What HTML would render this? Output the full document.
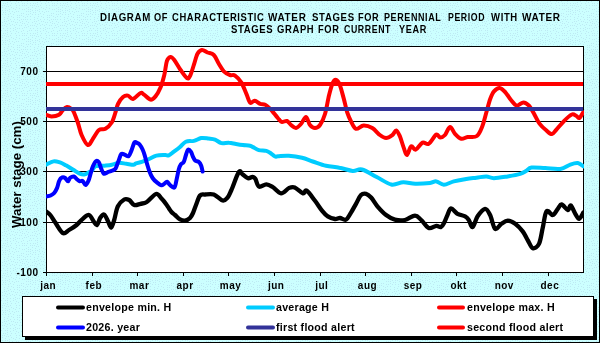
<!DOCTYPE html>
<html><head><meta charset="utf-8"><style>
html,body{margin:0;padding:0;}
body{width:600px;height:343px;position:relative;overflow:hidden;will-change:transform;font-family:"Liberation Sans", sans-serif;font-weight:bold;color:#000;}
svg{position:absolute;left:0;top:0;}
.tw{position:absolute;white-space:pre;font-size:10.4px;line-height:12px;transform-origin:0 0;letter-spacing:0.7px;}
.yl{position:absolute;left:0;width:38.5px;text-align:right;font-size:10px;line-height:12px;letter-spacing:0.5px;}
.ml{position:absolute;top:280px;width:40px;text-align:center;font-size:10px;line-height:12px;letter-spacing:0.5px;}
.yt{position:absolute;left:0;top:0;font-size:13.33px;line-height:14px;white-space:pre;transform-origin:0 0;}
.lg{position:absolute;font-size:10.67px;line-height:12px;white-space:pre;letter-spacing:0.25px;}
</style></head><body>
<svg width="600" height="343" viewBox="0 0 600 343">
<defs><pattern id="dots" x="0" y="0" width="30" height="30" patternUnits="userSpaceOnUse"><rect width="30" height="30" fill="#CCFFFF"/><g fill="#BDE9F3"><rect x="23" y="13" width="1" height="1"/><rect x="14" y="19" width="1" height="1"/><rect x="0" y="28" width="1" height="1"/><rect x="18" y="2" width="1" height="1"/><rect x="16" y="24" width="1" height="1"/><rect x="26" y="5" width="1" height="1"/><rect x="0" y="3" width="1" height="1"/><rect x="3" y="28" width="1" height="1"/><rect x="24" y="3" width="1" height="1"/><rect x="16" y="5" width="1" height="1"/><rect x="10" y="5" width="1" height="1"/><rect x="12" y="11" width="1" height="1"/><rect x="14" y="12" width="1" height="1"/><rect x="16" y="7" width="1" height="1"/><rect x="26" y="11" width="1" height="1"/><rect x="2" y="5" width="1" height="1"/><rect x="13" y="8" width="1" height="1"/><rect x="22" y="28" width="1" height="1"/><rect x="22" y="23" width="1" height="1"/><rect x="6" y="6" width="1" height="1"/><rect x="27" y="1" width="1" height="1"/><rect x="2" y="22" width="1" height="1"/><rect x="13" y="0" width="1" height="1"/><rect x="28" y="7" width="1" height="1"/><rect x="14" y="25" width="1" height="1"/><rect x="26" y="14" width="1" height="1"/><rect x="19" y="17" width="1" height="1"/><rect x="0" y="9" width="1" height="1"/><rect x="27" y="19" width="1" height="1"/><rect x="4" y="17" width="1" height="1"/><rect x="15" y="29" width="1" height="1"/><rect x="27" y="3" width="1" height="1"/><rect x="3" y="3" width="1" height="1"/><rect x="28" y="26" width="1" height="1"/><rect x="0" y="19" width="1" height="1"/><rect x="12" y="24" width="1" height="1"/><rect x="19" y="25" width="1" height="1"/><rect x="21" y="25" width="1" height="1"/><rect x="7" y="0" width="1" height="1"/><rect x="9" y="9" width="1" height="1"/><rect x="22" y="9" width="1" height="1"/><rect x="4" y="21" width="1" height="1"/><rect x="25" y="17" width="1" height="1"/><rect x="17" y="15" width="1" height="1"/><rect x="17" y="17" width="1" height="1"/><rect x="22" y="5" width="1" height="1"/><rect x="23" y="0" width="1" height="1"/><rect x="7" y="28" width="1" height="1"/><rect x="21" y="19" width="1" height="1"/><rect x="6" y="26" width="1" height="1"/><rect x="28" y="14" width="1" height="1"/><rect x="7" y="10" width="1" height="1"/><rect x="5" y="10" width="1" height="1"/><rect x="3" y="12" width="1" height="1"/><rect x="10" y="13" width="1" height="1"/><rect x="16" y="11" width="1" height="1"/><rect x="10" y="19" width="1" height="1"/><rect x="19" y="28" width="1" height="1"/><rect x="26" y="8" width="1" height="1"/><rect x="0" y="5" width="1" height="1"/><rect x="15" y="3" width="1" height="1"/><rect x="5" y="23" width="1" height="1"/><rect x="24" y="23" width="1" height="1"/><rect x="15" y="27" width="1" height="1"/><rect x="22" y="3" width="1" height="1"/><rect x="24" y="5" width="1" height="1"/><rect x="10" y="25" width="1" height="1"/><rect x="0" y="11" width="1" height="1"/><rect x="19" y="5" width="1" height="1"/><rect x="11" y="21" width="1" height="1"/><rect x="8" y="16" width="1" height="1"/><rect x="1" y="0" width="1" height="1"/><rect x="13" y="17" width="1" height="1"/><rect x="5" y="3" width="1" height="1"/><rect x="8" y="6" width="1" height="1"/><rect x="21" y="15" width="1" height="1"/><rect x="4" y="25" width="1" height="1"/><rect x="15" y="22" width="1" height="1"/><rect x="19" y="8" width="1" height="1"/><rect x="24" y="27" width="1" height="1"/><rect x="0" y="16" width="1" height="1"/><rect x="23" y="19" width="1" height="1"/><rect x="2" y="25" width="1" height="1"/><rect x="25" y="25" width="1" height="1"/><rect x="22" y="21" width="1" height="1"/><rect x="10" y="28" width="1" height="1"/><rect x="7" y="18" width="1" height="1"/><rect x="17" y="22" width="1" height="1"/><rect x="2" y="7" width="1" height="1"/><rect x="5" y="8" width="1" height="1"/><rect x="15" y="9" width="1" height="1"/><rect x="11" y="7" width="1" height="1"/><rect x="7" y="24" width="1" height="1"/><rect x="2" y="14" width="1" height="1"/><rect x="17" y="28" width="1" height="1"/><rect x="5" y="12" width="1" height="1"/><rect x="5" y="0" width="1" height="1"/><rect x="9" y="11" width="1" height="1"/><rect x="26" y="21" width="1" height="1"/><rect x="7" y="4" width="1" height="1"/><rect x="11" y="16" width="1" height="1"/><rect x="28" y="22" width="1" height="1"/><rect x="19" y="15" width="1" height="1"/><rect x="28" y="11" width="1" height="1"/><rect x="20" y="22" width="1" height="1"/><rect x="9" y="23" width="1" height="1"/><rect x="18" y="11" width="1" height="1"/><rect x="13" y="14" width="1" height="1"/><rect x="10" y="1" width="1" height="1"/><rect x="29" y="0" width="1" height="1"/><rect x="5" y="14" width="1" height="1"/><rect x="8" y="14" width="1" height="1"/><rect x="26" y="27" width="1" height="1"/><rect x="27" y="16" width="1" height="1"/><rect x="0" y="13" width="1" height="1"/><rect x="19" y="20" width="1" height="1"/><rect x="4" y="5" width="1" height="1"/><rect x="13" y="21" width="1" height="1"/><rect x="16" y="1" width="1" height="1"/><rect x="21" y="1" width="1" height="1"/><rect x="17" y="19" width="1" height="1"/><rect x="0" y="25" width="1" height="1"/><rect x="24" y="9" width="1" height="1"/><rect x="8" y="20" width="1" height="1"/><rect x="2" y="10" width="1" height="1"/><rect x="27" y="24" width="1" height="1"/><rect x="6" y="21" width="1" height="1"/><rect x="7" y="2" width="1" height="1"/><rect x="21" y="13" width="1" height="1"/><rect x="13" y="28" width="1" height="1"/><rect x="4" y="19" width="1" height="1"/><rect x="23" y="16" width="1" height="1"/><rect x="11" y="3" width="1" height="1"/><rect x="25" y="19" width="1" height="1"/><rect x="28" y="9" width="1" height="1"/></g></pattern></defs>
<rect x="0" y="0" width="600" height="343" fill="url(#dots)"/>
<rect x="0.5" y="0.5" width="599" height="342" fill="none" stroke="#000" stroke-width="1"/>
<rect x="46" y="46" width="537" height="226" fill="#fff"/>
<g stroke="#000" stroke-width="1" fill="none" shape-rendering="crispEdges"><line x1="46" y1="71.5" x2="583" y2="71.5"/><line x1="46" y1="121.5" x2="583" y2="121.5"/><line x1="46" y1="171.5" x2="583" y2="171.5"/><line x1="46" y1="222.5" x2="583" y2="222.5"/><line x1="43" y1="71.5" x2="46" y2="71.5"/><line x1="43" y1="121.5" x2="46" y2="121.5"/><line x1="43" y1="171.5" x2="46" y2="171.5"/><line x1="43" y1="222.5" x2="46" y2="222.5"/><line x1="43" y1="272.5" x2="46" y2="272.5"/><line x1="46.5" y1="272" x2="46.5" y2="276"/><line x1="92.5" y1="272" x2="92.5" y2="276"/><line x1="137.5" y1="272" x2="137.5" y2="276"/><line x1="183.5" y1="272" x2="183.5" y2="276"/><line x1="228.5" y1="272" x2="228.5" y2="276"/><line x1="274.5" y1="272" x2="274.5" y2="276"/><line x1="320.5" y1="272" x2="320.5" y2="276"/><line x1="365.5" y1="272" x2="365.5" y2="276"/><line x1="411.5" y1="272" x2="411.5" y2="276"/><line x1="456.5" y1="272" x2="456.5" y2="276"/><line x1="502.5" y1="272" x2="502.5" y2="276"/><line x1="548.5" y1="272" x2="548.5" y2="276"/>
<rect x="46.5" y="46.5" width="537" height="226"/></g>
<clipPath id="pc"><rect x="46" y="46" width="538" height="227"/></clipPath>
<g clip-path="url(#pc)" fill="none" stroke-linejoin="round" stroke-linecap="round">
<path d="M46.0,211.3 C46.7,211.9 48.8,213.1 50.3,215.0 C51.8,216.9 53.2,219.6 55.3,222.6 C57.4,225.6 60.5,231.8 62.8,233.0 C65.1,234.2 66.7,231.3 69.0,230.0 C71.3,228.7 74.3,226.9 76.6,225.0 C78.9,223.1 80.7,220.5 82.8,218.8 C84.9,217.1 87.2,214.6 89.0,215.0 C90.8,215.4 92.3,219.6 93.6,221.3 C94.9,223.0 95.9,225.6 97.0,225.0 C98.1,224.4 99.2,219.3 100.4,217.6 C101.6,215.9 102.9,214.0 104.2,214.6 C105.5,215.2 106.8,219.1 108.0,221.3 C109.2,223.5 110.2,227.8 111.2,227.6 C112.2,227.4 113.1,223.6 114.2,220.0 C115.3,216.4 116.2,209.7 117.9,206.3 C119.6,202.9 122.3,200.6 124.2,199.5 C126.1,198.4 127.5,199.1 129.2,200.0 C130.9,200.9 132.3,204.4 134.2,205.0 C136.1,205.6 138.4,204.3 140.5,203.8 C142.6,203.3 144.2,203.6 146.8,202.0 C149.4,200.4 153.6,194.6 156.0,194.0 C158.4,193.4 159.8,196.8 161.5,198.5 C163.2,200.2 164.8,202.3 166.0,204.0 C167.2,205.7 168.1,207.2 169.0,208.5 C169.9,209.8 170.5,210.9 171.5,212.0 C172.5,213.1 173.6,213.8 175.0,215.0 C176.4,216.2 178.3,218.5 180.0,219.4 C181.7,220.3 183.3,220.8 185.0,220.6 C186.7,220.4 188.7,219.3 190.0,218.0 C191.3,216.7 192.0,215.2 193.0,213.0 C194.0,210.8 194.8,207.9 196.0,205.0 C197.2,202.1 198.5,197.2 200.0,195.5 C201.5,193.8 202.7,194.7 205.0,194.5 C207.3,194.3 210.9,193.5 213.8,194.5 C216.7,195.5 220.3,200.0 222.6,200.5 C224.9,201.0 226.1,199.2 227.6,197.5 C229.1,195.8 229.5,194.2 231.4,190.0 C233.3,185.8 237.0,174.6 238.8,172.0 C240.6,169.4 240.9,173.2 242.4,174.2 C243.9,175.2 246.2,177.8 247.9,178.2 C249.6,178.6 251.3,176.8 252.5,176.9 C253.7,177.0 254.2,177.2 255.3,178.8 C256.4,180.4 257.2,185.8 259.0,186.7 C260.8,187.6 264.0,184.2 266.3,184.3 C268.6,184.4 270.2,185.5 272.7,187.0 C275.1,188.5 278.2,193.2 281.0,193.4 C283.8,193.6 286.9,188.9 289.2,187.9 C291.5,186.9 292.4,186.5 294.7,187.4 C297.0,188.3 301.0,192.9 303.0,193.4 C305.0,193.9 304.7,189.5 306.7,190.7 C308.7,191.9 312.4,197.4 315.0,200.8 C317.6,204.2 320.1,208.3 322.2,210.9 C324.3,213.5 325.7,215.1 327.8,216.4 C329.9,217.8 333.0,218.7 335.0,219.0 C337.0,219.3 338.2,217.9 340.0,218.0 C341.8,218.1 344.2,220.5 346.0,219.6 C347.8,218.7 349.3,215.2 351.0,212.6 C352.7,210.0 354.3,206.7 356.0,203.8 C357.7,200.9 359.3,196.7 361.0,195.0 C362.7,193.3 364.4,193.4 366.1,193.8 C367.8,194.2 369.2,195.4 371.1,197.5 C373.0,199.6 374.9,203.4 377.4,206.3 C379.9,209.2 383.2,212.8 386.1,215.0 C389.0,217.2 391.8,218.8 394.9,219.6 C398.0,220.4 401.5,220.7 404.9,220.0 C408.2,219.3 412.3,215.6 415.0,215.6 C417.7,215.6 418.9,217.9 421.2,220.0 C423.5,222.1 426.2,227.0 428.7,228.0 C431.2,229.0 434.2,226.0 436.3,225.8 C438.4,225.6 439.6,227.6 441.0,227.0 C442.4,226.4 443.4,224.0 444.5,222.0 C445.6,220.0 446.4,217.2 447.5,215.0 C448.6,212.8 449.3,208.7 451.0,208.5 C452.7,208.3 455.1,212.5 457.5,213.8 C459.9,215.1 463.2,215.3 465.1,216.3 C467.0,217.3 467.6,218.2 468.8,220.0 C470.1,221.8 471.1,227.7 472.6,227.1 C474.1,226.5 475.5,219.4 477.6,216.3 C479.7,213.2 483.0,209.0 485.1,208.8 C487.2,208.6 488.4,211.7 490.1,215.0 C491.8,218.3 493.2,227.3 495.1,228.8 C497.0,230.3 499.3,225.2 501.4,223.8 C503.5,222.4 505.4,220.6 507.7,220.6 C510.0,220.6 512.7,222.0 515.2,223.8 C517.7,225.6 520.6,228.7 522.7,231.4 C524.8,234.1 526.0,237.3 527.7,240.1 C529.4,242.9 530.8,247.5 532.7,248.1 C534.6,248.7 537.3,247.3 539.0,243.9 C540.7,240.5 541.5,233.0 542.8,227.6 C544.0,222.2 544.8,213.4 546.5,211.3 C548.2,209.2 550.9,215.4 552.8,215.0 C554.7,214.6 556.3,210.6 557.8,208.8 C559.3,207.1 559.9,204.3 561.6,204.5 C563.3,204.7 566.3,209.8 567.8,210.0 C569.3,210.2 569.5,204.9 570.8,205.5 C572.0,206.1 573.9,211.6 575.3,213.8 C576.7,216.0 577.8,219.0 579.1,218.8 C580.5,218.6 582.7,213.6 583.4,212.6" stroke="#000" stroke-width="4.3"/>
<path d="M46.2,164.6 C47.4,164.1 51.2,161.8 53.5,161.4 C55.8,161.0 57.9,161.8 60.0,162.4 C62.1,163.1 63.7,164.1 65.9,165.3 C68.1,166.5 70.9,168.3 73.2,169.7 C75.5,171.1 77.9,172.8 79.7,173.6 C81.5,174.4 82.6,174.7 84.1,174.5 C85.6,174.3 87.2,173.3 88.5,172.6 C89.8,171.9 90.9,171.5 92.1,170.4 C93.3,169.3 93.7,167.0 95.8,166.2 C97.9,165.4 101.9,165.9 104.6,165.7 C107.3,165.4 109.5,165.2 111.9,164.7 C114.3,164.2 116.8,163.0 119.2,162.8 C121.6,162.7 124.0,163.5 126.4,163.8 C128.8,164.1 132.1,164.8 133.7,164.7 C135.3,164.6 134.7,163.8 136.0,163.3 C137.3,162.8 139.6,162.6 141.8,161.9 C144.0,161.2 146.7,160.1 149.1,159.0 C151.5,157.9 153.7,156.3 156.4,155.6 C159.1,154.9 163.1,155.1 165.2,155.0 C167.3,154.9 167.4,155.9 168.8,155.3 C170.2,154.8 172.1,153.0 173.9,151.7 C175.7,150.4 177.7,149.0 179.7,147.3 C181.7,145.6 183.4,142.8 185.8,141.7 C188.2,140.6 191.3,141.5 193.9,140.9 C196.5,140.3 198.8,138.4 201.2,138.0 C203.6,137.6 206.1,138.2 208.4,138.5 C210.7,138.8 212.8,138.8 215.0,139.6 C217.2,140.4 219.1,142.6 221.4,143.1 C223.7,143.6 226.6,142.5 229.0,142.7 C231.4,142.8 233.7,143.6 236.0,144.0 C238.3,144.4 240.7,144.8 243.0,145.1 C245.3,145.4 248.2,145.4 250.0,145.8 C251.8,146.2 252.0,146.7 253.5,147.4 C255.0,148.1 256.7,149.5 258.8,150.1 C260.9,150.7 264.4,150.4 266.3,150.9 C268.2,151.4 268.9,152.1 270.4,153.0 C271.8,153.9 273.7,156.0 275.0,156.5 C276.3,157.0 275.7,156.3 278.0,156.2 C280.3,156.1 284.7,155.4 288.7,155.7 C292.7,156.0 298.0,156.8 302.0,157.8 C306.0,158.8 308.7,160.2 312.7,161.5 C316.7,162.8 321.6,164.8 326.0,165.8 C330.4,166.8 334.9,166.8 339.3,167.7 C343.8,168.5 348.9,170.6 352.7,170.9 C356.5,171.2 358.0,168.5 362.0,169.5 C366.0,170.5 371.8,174.5 376.7,177.0 C381.6,179.5 386.9,183.6 391.3,184.5 C395.7,185.4 399.3,182.4 403.3,182.3 C407.3,182.2 410.9,183.6 415.3,183.7 C419.8,183.8 426.5,183.3 430.0,182.9 C433.5,182.5 434.0,181.1 436.3,181.4 C438.6,181.7 440.9,184.7 443.8,184.7 C446.7,184.7 450.1,182.4 453.8,181.4 C457.6,180.4 462.5,179.5 466.3,178.9 C470.1,178.3 473.0,178.1 476.4,177.7 C479.8,177.3 483.5,176.3 486.4,176.4 C489.3,176.5 490.3,178.2 493.9,178.2 C497.4,178.2 503.3,177.1 507.7,176.4 C512.1,175.7 517.1,174.9 520.2,173.9 C523.3,172.9 524.6,171.8 526.5,170.7 C528.4,169.6 528.4,168.0 531.5,167.6 C534.6,167.2 540.5,167.9 545.3,168.1 C550.1,168.3 556.1,169.5 560.3,168.9 C564.5,168.3 567.4,165.6 570.3,164.6 C573.2,163.6 575.6,162.8 577.8,163.1 C580.0,163.4 582.5,165.8 583.4,166.4" stroke="#00CCFF" stroke-width="4"/>
<path d="M46.0,114.7 C46.9,115.0 49.3,116.4 51.5,116.4 C53.7,116.4 57.1,115.8 59.0,114.7 C60.9,113.6 61.5,111.3 62.8,110.0 C64.1,108.7 65.5,107.2 67.0,107.0 C68.5,106.8 70.4,108.1 71.6,109.0 C72.8,109.9 73.0,110.2 74.0,112.5 C75.0,114.8 76.5,118.8 77.8,122.5 C79.1,126.2 79.9,131.2 81.6,135.0 C83.3,138.8 86.0,144.4 87.9,145.0 C89.8,145.6 91.1,141.3 92.9,138.8 C94.8,136.3 96.9,131.7 99.0,130.0 C101.1,128.3 103.3,130.1 105.4,128.8 C107.5,127.6 110.0,125.2 111.7,122.5 C113.4,119.8 114.4,115.6 115.4,112.5 C116.5,109.4 116.7,106.6 118.0,104.0 C119.3,101.4 121.3,98.4 123.0,97.0 C124.7,95.6 126.3,95.3 128.0,95.6 C129.7,95.9 130.9,99.4 133.0,99.0 C135.1,98.6 138.7,93.7 140.5,93.0 C142.3,92.3 142.3,93.5 144.0,94.6 C145.7,95.7 148.6,99.3 150.5,99.6 C152.4,99.9 153.8,98.4 155.5,96.4 C157.2,94.4 159.0,91.2 160.5,87.6 C162.0,84.0 163.2,79.4 164.3,75.0 C165.4,70.6 165.8,64.3 166.8,61.3 C167.9,58.3 169.3,57.2 170.6,57.0 C171.8,56.8 172.6,57.8 174.3,60.0 C176.0,62.2 178.5,67.0 180.6,70.0 C182.7,73.0 185.3,77.0 186.9,78.0 C188.5,79.0 188.8,78.2 190.0,76.0 C191.2,73.8 192.6,68.7 193.8,65.0 C195.1,61.3 196.1,56.3 197.5,53.8 C198.9,51.3 200.3,50.2 202.0,50.0 C203.7,49.8 205.5,51.7 207.5,52.5 C209.5,53.3 211.9,53.1 213.8,55.0 C215.7,56.9 217.1,61.1 218.8,63.8 C220.5,66.5 221.9,69.4 223.8,71.3 C225.7,73.2 228.1,74.3 230.0,75.0 C231.9,75.7 233.1,74.3 235.0,75.6 C236.9,76.9 239.5,79.5 241.4,82.6 C243.3,85.6 244.9,90.6 246.4,93.9 C247.9,97.2 248.8,101.6 250.2,102.7 C251.6,103.8 253.0,100.5 254.7,100.7 C256.4,100.9 258.4,103.2 260.2,103.9 C261.9,104.6 263.5,103.9 265.2,104.7 C266.9,105.5 268.3,107.0 270.2,108.9 C272.1,110.9 275.0,114.6 276.5,116.4 C278.0,118.2 278.1,118.6 279.0,119.5 C279.9,120.4 280.7,121.8 282.0,122.0 C283.3,122.2 285.5,120.5 287.0,121.0 C288.5,121.5 289.5,123.8 291.0,125.0 C292.5,126.2 294.3,128.2 296.0,128.0 C297.7,127.8 299.3,125.8 301.0,124.0 C302.7,122.2 304.5,116.8 306.0,117.0 C307.5,117.2 308.5,123.2 310.0,125.0 C311.5,126.8 313.3,128.0 315.0,128.0 C316.7,128.0 318.3,127.3 320.0,125.0 C321.7,122.7 323.5,119.0 325.0,114.0 C326.5,109.0 327.8,100.2 329.1,95.0 C330.4,89.8 331.7,85.1 332.9,82.6 C334.1,80.1 335.0,79.6 336.1,80.0 C337.2,80.4 338.6,82.1 339.8,85.0 C341.0,87.9 342.2,93.0 343.5,97.6 C344.8,102.2 346.1,108.8 347.3,112.7 C348.6,116.7 349.6,118.6 351.0,121.3 C352.4,124.0 353.9,128.1 356.0,128.8 C358.1,129.5 360.9,125.6 363.6,125.5 C366.3,125.4 369.6,126.4 372.3,128.0 C375.0,129.6 377.6,133.3 379.9,135.0 C382.2,136.7 384.0,138.0 386.1,138.0 C388.2,138.0 390.7,136.2 392.4,135.0 C394.1,133.8 394.9,130.3 396.2,130.5 C397.4,130.7 398.6,133.5 399.9,136.3 C401.1,139.2 402.5,144.5 403.7,147.6 C404.9,150.7 405.6,155.2 406.9,155.0 C408.1,154.8 409.7,147.2 411.2,146.3 C412.7,145.4 413.8,150.2 415.7,149.6 C417.6,149.0 420.3,143.6 422.5,142.6 C424.7,141.6 426.4,145.1 428.7,143.8 C431.0,142.5 434.4,135.6 436.3,134.6 C438.2,133.6 438.6,137.5 440.0,137.6 C441.4,137.7 443.3,136.8 445.0,135.0 C446.7,133.2 448.3,127.2 450.0,127.0 C451.7,126.8 453.1,131.8 455.0,133.8 C456.9,135.8 459.2,138.3 461.3,138.8 C463.4,139.3 465.0,137.5 467.6,137.0 C470.2,136.5 474.4,137.9 476.9,136.0 C479.4,134.1 481.0,129.4 482.6,125.5 C484.2,121.5 485.1,116.7 486.4,112.3 C487.7,107.9 488.9,102.5 490.2,99.0 C491.5,95.5 492.4,93.2 494.0,91.4 C495.6,89.6 497.8,87.8 499.7,88.0 C501.6,88.2 503.5,90.3 505.4,92.3 C507.3,94.3 509.1,97.8 511.0,100.0 C512.9,102.2 514.6,105.2 516.7,105.6 C518.8,106.0 521.4,102.4 523.4,102.4 C525.4,102.4 527.3,103.8 529.0,105.6 C530.7,107.4 532.0,110.2 533.8,113.2 C535.5,116.2 537.4,120.8 539.5,123.6 C541.6,126.4 544.1,128.6 546.2,130.3 C548.3,132.1 550.2,134.3 551.9,134.1 C553.6,133.9 554.5,131.5 556.6,129.3 C558.7,127.1 561.7,123.3 564.2,120.8 C566.7,118.3 569.8,115.3 571.8,114.5 C573.8,113.7 575.2,115.4 576.5,116.0 C577.8,116.6 578.3,118.6 579.4,118.0 C580.5,117.4 582.6,113.2 583.2,112.3" stroke="#FF0000" stroke-width="4"/>
<path d="M46.2,196.4 C46.9,196.2 49.3,196.1 50.6,195.5 C51.9,194.9 53.1,194.3 54.2,193.0 C55.3,191.7 56.2,190.0 57.1,187.9 C58.0,185.8 58.4,182.3 59.3,180.6 C60.1,178.8 61.2,177.8 62.2,177.4 C63.2,177.0 64.1,177.3 65.1,178.0 C66.1,178.7 67.2,181.4 68.0,181.3 C68.8,181.2 69.2,178.5 70.2,177.7 C71.2,176.9 72.8,176.2 73.9,176.5 C75.0,176.8 75.8,178.4 76.8,179.2 C77.8,180.0 78.7,181.0 79.7,181.3 C80.7,181.6 81.6,180.3 82.6,180.9 C83.6,181.5 84.5,185.1 85.5,185.0 C86.5,184.9 87.7,182.4 88.5,180.6 C89.3,178.8 89.8,176.4 90.5,174.0 C91.2,171.6 92.0,168.5 92.9,166.4 C93.8,164.3 94.8,162.0 95.8,161.3 C96.8,160.6 97.8,161.0 98.7,162.1 C99.6,163.2 100.1,166.0 100.9,167.9 C101.8,169.8 102.7,173.0 103.8,173.7 C104.9,174.4 106.2,172.8 107.5,172.3 C108.8,171.8 110.6,171.4 111.9,170.8 C113.2,170.2 114.4,170.2 115.5,168.6 C116.6,167.0 117.4,163.7 118.4,161.3 C119.4,158.9 120.2,155.1 121.3,154.0 C122.4,152.9 123.8,154.4 125.0,154.8 C126.2,155.2 127.5,156.9 128.6,156.2 C129.7,155.5 130.5,152.7 131.5,150.4 C132.5,148.1 133.5,143.6 134.5,142.4 C135.5,141.2 136.6,142.8 137.4,143.1 C138.2,143.4 138.7,143.3 139.6,144.4 C140.5,145.5 141.8,147.7 142.6,149.5 C143.4,151.3 144.0,153.0 144.7,155.3 C145.4,157.6 146.1,160.7 146.9,163.3 C147.7,165.9 148.4,168.6 149.3,171.0 C150.2,173.4 151.3,176.1 152.6,178.0 C153.9,179.9 155.4,181.2 156.9,182.4 C158.4,183.6 160.1,185.1 161.3,185.3 C162.5,185.6 163.2,184.5 164.2,183.9 C165.2,183.3 166.1,181.5 167.1,181.7 C168.1,181.9 168.8,184.0 170.0,185.0 C171.2,186.0 173.3,188.4 174.4,187.5 C175.5,186.6 175.9,182.5 176.6,179.5 C177.3,176.5 178.1,171.9 178.8,169.3 C179.5,166.8 180.2,165.4 181.0,164.2 C181.8,163.0 182.9,163.5 183.7,162.1 C184.5,160.7 185.1,157.6 185.8,155.5 C186.5,153.4 187.1,150.3 188.0,149.7 C188.9,149.1 190.2,150.7 191.0,151.9 C191.8,153.1 192.4,155.6 193.1,157.0 C193.8,158.4 194.3,159.8 195.3,160.6 C196.3,161.4 198.0,161.2 199.0,162.1 C200.0,162.9 200.6,164.1 201.2,165.7 C201.8,167.3 202.4,170.5 202.6,171.5" stroke="#0000FF" stroke-width="4"/>
<line x1="46" y1="109" x2="583" y2="109" stroke="#333399" stroke-width="4" stroke-linecap="butt"/>
<line x1="46" y1="84" x2="583" y2="84" stroke="#FF0000" stroke-width="4" stroke-linecap="butt"/>
</g>
<rect x="25" y="299" width="572" height="41" fill="#000"/>
<rect x="22.5" y="296.5" width="571" height="40" fill="#fff" stroke="#000" stroke-width="1"/>
<g stroke-width="4" stroke-linecap="round">
<line x1="58" y1="307.5" x2="83" y2="307.5" stroke="#000"/>
<line x1="58" y1="327.5" x2="83" y2="327.5" stroke="#0000FF"/>
<line x1="248" y1="307.5" x2="273" y2="307.5" stroke="#00CCFF"/>
<line x1="248" y1="327.5" x2="273" y2="327.5" stroke="#333399"/>
<line x1="439" y1="307.5" x2="463" y2="307.5" stroke="#FF0000"/>
<line x1="439" y1="327.5" x2="463" y2="327.5" stroke="#FF0000"/>
</g>
</svg>
<span class="tw" style="left:99.75px;top:12px;transform:scaleX(0.9326)">DIAGRAM</span><span class="tw" style="left:153.73px;top:12px;transform:scaleX(0.8879)">OF</span><span class="tw" style="left:171.53px;top:12px;transform:scaleX(0.9060)">CHARACTERISTIC</span><span class="tw" style="left:268.45px;top:12px;transform:scaleX(0.9559)">WATER</span><span class="tw" style="left:312.00px;top:12px;transform:scaleX(0.9259)">STAGES</span><span class="tw" style="left:357.61px;top:12px;transform:scaleX(0.8878)">FOR</span><span class="tw" style="left:383.82px;top:12px;transform:scaleX(0.8652)">PERENNIAL</span><span class="tw" style="left:447.54px;top:12px;transform:scaleX(0.8420)">PERIOD</span><span class="tw" style="left:491.07px;top:12px;transform:scaleX(0.9162)">WITH</span><span class="tw" style="left:521.84px;top:12px;transform:scaleX(0.9631)">WATER</span><span class="tw" style="left:231.48px;top:24px;transform:scaleX(0.9175)">STAGES</span><span class="tw" style="left:277.06px;top:24px;transform:scaleX(0.9095)">GRAPH</span><span class="tw" style="left:318.25px;top:24px;transform:scaleX(0.8943)">FOR</span><span class="tw" style="left:344.33px;top:24px;transform:scaleX(0.8447)">CURRENT</span><span class="tw" style="left:399.48px;top:24px;transform:scaleX(0.8805)">YEAR</span>
<div class="yl" style="top:66px">700</div><div class="yl" style="top:116px">500</div><div class="yl" style="top:166px">300</div><div class="yl" style="top:217px">100</div><div class="yl" style="top:267px">-100</div>
<div class="ml" style="left:28.2px">jan</div><div class="ml" style="left:73.8px">feb</div><div class="ml" style="left:119.4px">mar</div><div class="ml" style="left:165.0px">apr</div><div class="ml" style="left:210.6px">may</div><div class="ml" style="left:256.2px">jun</div><div class="ml" style="left:301.8px">jul</div><div class="ml" style="left:347.5px">aug</div><div class="ml" style="left:393.1px">sep</div><div class="ml" style="left:438.7px">okt</div><div class="ml" style="left:484.3px">nov</div><div class="ml" style="left:529.9px">dec</div>
<div class="yt" style="transform:translate(10px,228px) rotate(-90deg)">Water stage (cm)</div>
<div class="lg" style="left:86px;top:301px">envelope min. H</div>
<div class="lg" style="left:86px;top:321px">2026. year</div>
<div class="lg" style="left:276px;top:301px">average H</div>
<div class="lg" style="left:276px;top:321px">first flood alert</div>
<div class="lg" style="left:467px;top:301px">envelope max. H</div>
<div class="lg" style="left:467px;top:321px">second flood alert</div>
</body></html>
